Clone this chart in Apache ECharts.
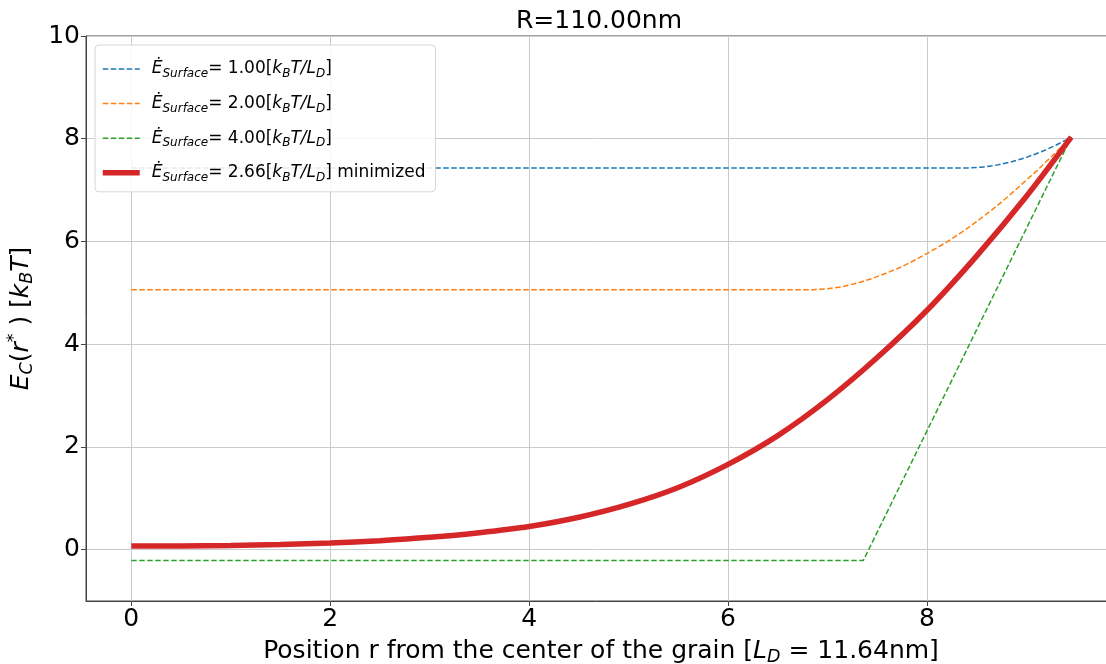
<!DOCTYPE html>
<html>
<head>
<meta charset="utf-8">
<script src="https://cdn.jsdelivr.net/npm/echarts@6/dist/echarts.min.js"></script>
<style>html,body{margin:0;padding:0;background:#fff}#c{width:1106px;height:664px}</style>
</head>
<body>
<div id="c"></div>
<script>
// ---- data ----
const titleText = 'R=110.00nm';
const xTicks = [0, 2, 4, 6, 8];
const yTicks = [0, 2, 4, 6, 8, 10];

const blueX = [0, 8.4, 8.55, 8.7, 8.85, 9.0, 9.15, 9.3, 9.45];
const blueY = [7.43, 7.43, 7.445, 7.486, 7.55, 7.637, 7.747, 7.878, 8.03];

const orangeX = [0, 6.85, 7.0, 7.15, 7.3, 7.45, 7.6, 7.75, 7.9, 8.05, 8.2, 8.35, 8.5, 8.65, 8.8, 8.95, 9.1, 9.25, 9.45];
const orangeY = [5.06, 5.06, 5.08, 5.12, 5.19, 5.28, 5.39, 5.51, 5.66, 5.82, 5.99, 6.18, 6.39, 6.61, 6.85, 7.11, 7.37, 7.65, 8.03];

const greenX = [0, 7.36, 9.45];
const greenY = [-0.21, -0.21, 8.03];

const redX = [0, 0.5, 1, 1.5, 2, 2.5, 3, 3.5, 4, 4.5, 5, 5.5, 6, 6.5, 7, 7.5, 8, 8.5, 9, 9.45];
const redY = [0.07, 0.072, 0.08, 0.1, 0.13, 0.175, 0.24, 0.33, 0.45, 0.63, 0.88, 1.21, 1.66, 2.22, 2.92, 3.74, 4.66, 5.72, 6.88, 8.03];

const seriesNames = ['E1', 'E2', 'E4', 'Emin'];
const legendValues = ['1.00', '2.00', '4.00', '2.66'];
const legendSuffix = ['', '', '', ' minimized'];

function pairs(xs, ys) { return xs.map((x, i) => [x, ys[i]]); }

const FONT = 'DejaVu Sans';
const chart = echarts.init(document.getElementById('c'), null, { renderer: 'canvas' });

const legendRich = {
  e: { fontFamily: FONT, fontStyle: 'italic', fontSize: 17, color: '#000', padding: [0, 0, 0, 7] },
  n: { fontFamily: FONT, fontSize: 17, color: '#000' },
  i: { fontFamily: FONT, fontStyle: 'italic', fontSize: 17, color: '#000' },
  s: { fontFamily: FONT, fontStyle: 'italic', fontSize: 12, lineHeight: 12, color: '#000', padding: [10, 0, 0, 0] }
};

const axisRich = {
  n: { fontFamily: FONT, fontSize: 25, color: '#000' },
  i: { fontFamily: FONT, fontStyle: 'italic', fontSize: 25, color: '#000' },
  s: { fontFamily: FONT, fontStyle: 'italic', fontSize: 17.5, lineHeight: 17, color: '#000', padding: [12, 0, 0, 0] },
  sup: { fontFamily: FONT, fontSize: 17.5, lineHeight: 17, color: '#000', padding: [0, 0, 14, 0] }
};

const dashed = [5.5, 2.5];

const option = {
  animation: false,
  backgroundColor: '#ffffff',
  title: {
    text: titleText,
    left: 511, top: 4,
    textStyle: { fontFamily: FONT, fontSize: 25, fontWeight: 'normal', color: '#000' }
  },
  grid: {
    left: 86, top: 36, right: -10, bottom: 63,
    outerBoundsMode: 'none', containLabel: false,
    show: true, borderColor: '#444', borderWidth: 1, backgroundColor: 'transparent'
  },
  legend: {
    orient: 'vertical',
    left: 95, top: 45,
    padding: [11, 10, 8, 5],
    itemGap: 10.6,
    itemWidth: 37, itemHeight: 24,
    backgroundColor: 'rgba(255,255,255,0.85)',
    borderColor: '#d6d6d6', borderWidth: 1, borderRadius: 4,
    lineStyle: { width: 'inherit' },
    itemStyle: { opacity: 0, color: 'transparent', borderWidth: 0 },
    data: seriesNames,
    formatter: function (name) {
      const k = seriesNames.indexOf(name);
      return '{e|\u0116}{s|Surface}{n|= ' + legendValues[k] + '[}{i|k}{s|B}{i|T/L}{s|D}{n|]' + legendSuffix[k] + '}';
    },
    textStyle: { rich: legendRich }
  },
  xAxis: {
    type: 'value', min: -0.455, max: 9.9,
    name: '{n|Position r from the center of the grain [}{i|L}{s|D}{n| = 11.64nm]}',
    nameLocation: 'middle', nameGap: 32,
    nameTextStyle: { rich: axisRich },
    axisLine: { show: true, onZero: false, lineStyle: { color: '#444', width: 1 } },
    axisTick: { show: true, customValues: xTicks, length: 5, lineStyle: { color: '#444' } },
    axisLabel: { customValues: xTicks, margin: 6, fontFamily: FONT, fontSize: 25, color: '#000' },
    splitLine: { show: true, lineStyle: { color: '#cbcbcb', width: 1 } }
  },
  yAxis: {
    type: 'value', min: -1, max: 10,
    name: '{i|E}{s|C}{n|(}{i|r}{sup|*}{n| ) [}{i|k}{s|B}{i|T}{n|]}',
    nameLocation: 'middle', nameGap: 36,
    nameTextStyle: { rich: axisRich },
    axisLine: { show: true, onZero: false, lineStyle: { color: '#444', width: 1 } },
    axisTick: { show: true, customValues: yTicks, length: 5, lineStyle: { color: '#444' } },
    axisLabel: { customValues: yTicks, margin: 6, fontFamily: FONT, fontSize: 25, color: '#000' },
    splitLine: { show: true, lineStyle: { color: '#cbcbcb', width: 1 } }
  },
  series: [
    { name: seriesNames[0], type: 'line', symbol: 'none', data: pairs(blueX, blueY),
      color: '#1f77b4', lineStyle: { color: '#1f77b4', width: 1.5, type: dashed } },
    { name: seriesNames[1], type: 'line', symbol: 'none', data: pairs(orangeX, orangeY),
      color: '#ff7f0e', lineStyle: { color: '#ff7f0e', width: 1.5, type: dashed } },
    { name: seriesNames[2], type: 'line', symbol: 'none', data: pairs(greenX, greenY),
      color: '#2ca02c', lineStyle: { color: '#2ca02c', width: 1.5, type: dashed } },
    { name: seriesNames[3], type: 'line', symbol: 'none', smooth: 0.3, data: pairs(redX, redY),
      color: '#d62728', lineStyle: { color: '#d62728', width: 5.5 } }
  ]
};
// legend rows in the reference are ~34.6 px apart
option.legend.itemGap = 12.6;
option.legend.padding = [13, 10, 8, 5];
chart.setOption(option);
</script>
</body>
</html>
